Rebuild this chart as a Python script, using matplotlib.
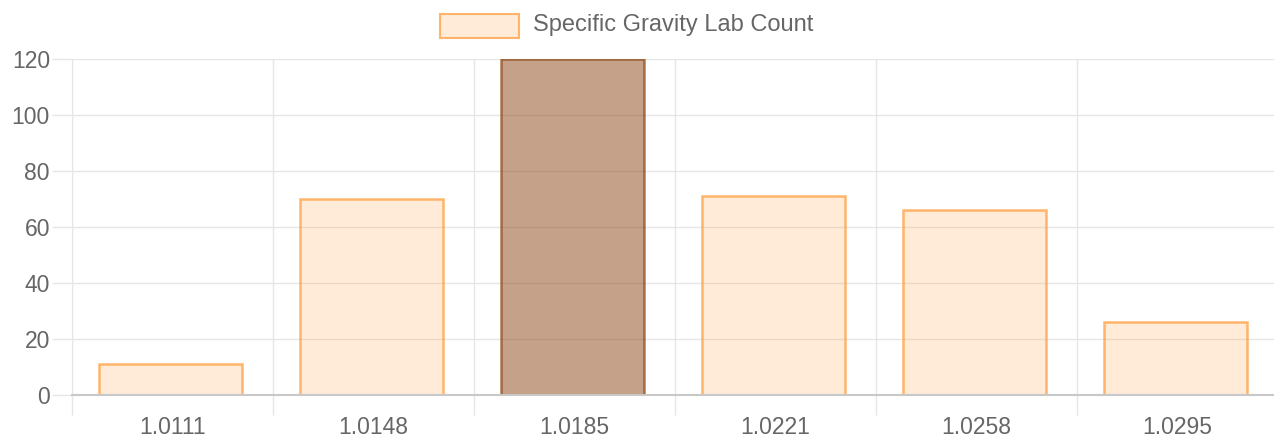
import matplotlib.pyplot as plt
from matplotlib.patches import Rectangle

labels = ['1.0111', '1.0148', '1.0185', '1.0221', '1.0258', '1.0295']
counts = [11, 70, 120, 71, 66, 26]
highlight = 2

plt.rcParams['font.family'] = ['Liberation Sans', 'DejaVu Sans']

fill = (1.0, 159/255, 64/255, 0.2)
edge = (1.0, 159/255, 64/255, 0.75)
fill_hi = (139/255, 69/255, 19/255, 0.5)
edge_hi = (139/255, 69/255, 19/255, 0.7)

fig = plt.figure(figsize=(12.74, 4.37), dpi=100)
W, H = 1274, 437
ax = fig.add_axes([72/W, 1 - 395/H, (1278 - 72)/W, (395 - 59)/H])

x = list(range(len(labels)))
fc = [fill_hi if i == highlight else fill for i in x]
ec = [edge_hi if i == highlight else edge for i in x]
ax.bar([i - 0.01 for i in x], counts, width=0.71, color=fc, edgecolor=ec, linewidth=1.8, zorder=2)

ax.set_xlim(-0.5, len(labels) - 0.5)
ax.set_ylim(0, 120)
ax.set_yticks(range(0, 121, 20))
ax.set_xticks([i - 0.5 for i in x] + [len(labels) - 0.5], minor=True)
ax.set_xticks(x)
ax.set_xticklabels(labels)

ax.grid(axis='y', color='#e6e6e6', linewidth=1, zorder=3)
ax.grid(axis='x', which='minor', color='#e6e6e6', linewidth=1, zorder=1)
ax.tick_params(axis='x', which='major', length=0, pad=15, labelsize=16.5, labelcolor='#666666')
ax.tick_params(axis='x', which='minor', length=14.4, color='#e6e6e6', width=1)
ax.tick_params(axis='y', length=14.4, color='#e6e6e6', width=1, pad=1.5, labelsize=16.5, labelcolor='#666666')
for s in ['top', 'right']:
    ax.spines[s].set_visible(False)
ax.spines['left'].set_color('#e6e6e6')
ax.spines['bottom'].set_color('#c8c8c8')
ax.spines['bottom'].set_linewidth(1.5)

# legend
fig.patches.append(Rectangle((440/W, 1 - 38/H), 79/W, 24/H, transform=fig.transFigure,
                             facecolor=fill, edgecolor=edge, linewidth=1.5))
fig.text(533/W, 1 - 25/H, 'Specific Gravity Lab Count', fontsize=17, color='#666666',
         va='center', ha='left')

fig.savefig('out.png', dpi=100)
